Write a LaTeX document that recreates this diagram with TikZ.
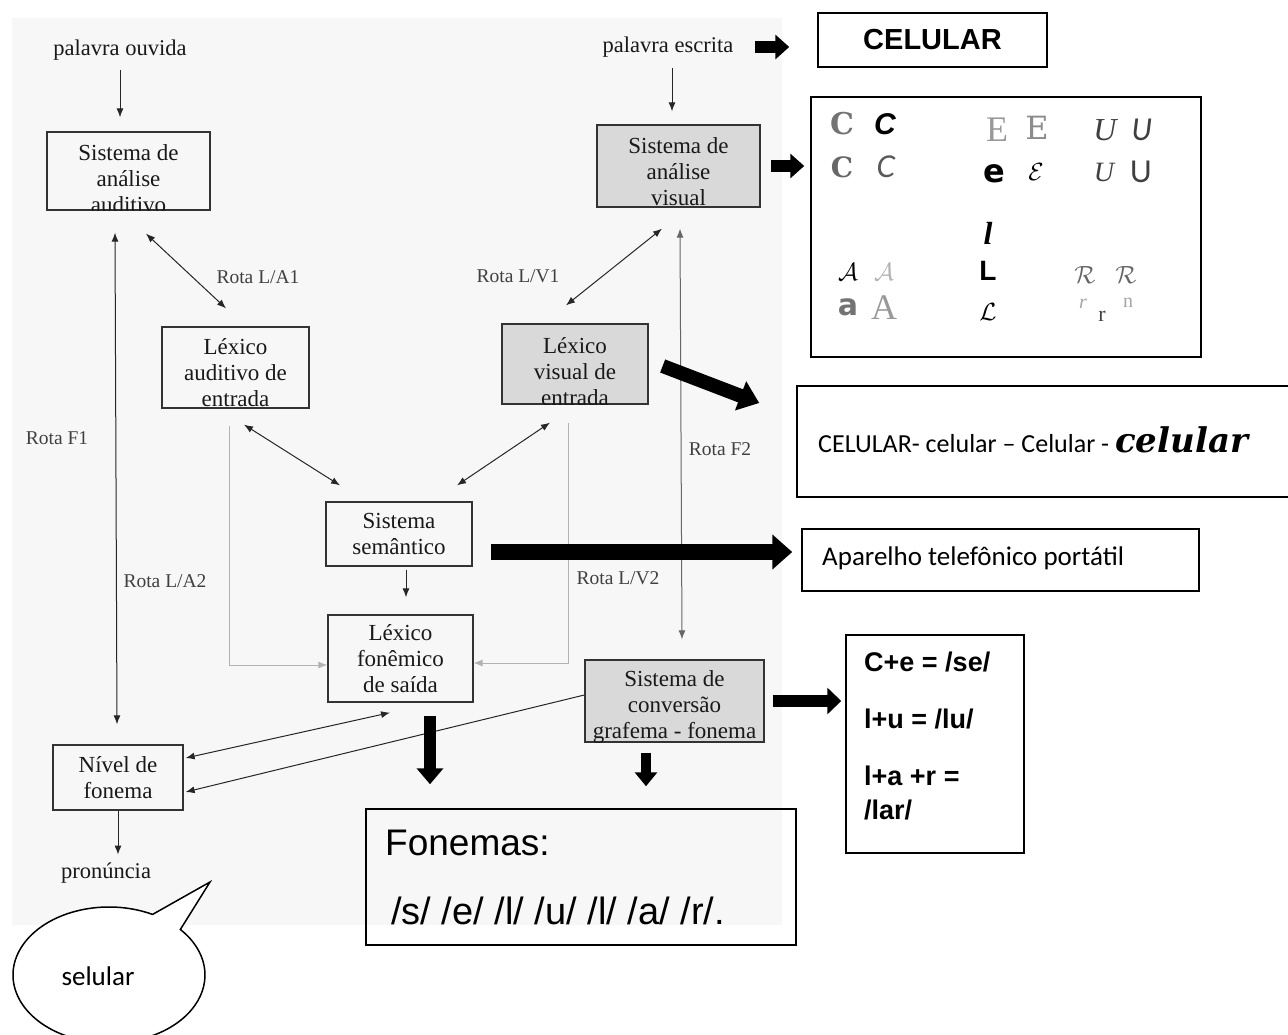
\documentclass[tikz,border=0pt]{standalone}
\usepackage{fontspec}
\setmainfont{Liberation Serif}
\newfontfamily\arialf{Liberation Sans}
\newfontfamily\calib{Carlito}
\newfontfamily\dvserif{DejaVu Serif}
\newfontfamily\dvsans{DejaVu Sans}
\newfontfamily\latof{Lato}
\newfontfamily\popf{Poppins}
\usetikzlibrary{arrows.meta,calc}
\begin{document}
\begin{tikzpicture}[x=1pt,y=-1pt,
  box/.style={draw=black!80,line width=1.3pt,rectangle,inner sep=0pt},
  gbox/.style={box,fill=gray!30},
  rbox/.style={draw=black,line width=1.5pt,rectangle,inner sep=0pt},
  btxt/.style={font=\fontsize{23}{26}\selectfont,align=center,text=black!90,inner sep=0pt},
  ptxt/.style={font=\fontsize{22.5}{24}\selectfont,text=black!90,inner sep=0pt},
  lbl/.style={font=\fontsize{19.5}{20}\selectfont,text=black!75,inner sep=0pt},
  arr/.style={draw=black!85,line width=1pt,-{Latex[length=9pt,width=7pt]}},
  dbl/.style={arr,{Latex[length=9pt,width=7pt]}-{Latex[length=9pt,width=7pt]}},
  faint/.style={draw=black!30,line width=0.9pt,-{Latex[length=9pt,width=7pt]}},
  fat/.style={draw=black,line width=#1,-{Triangle[length=16pt,width=26pt]}},
  fat/.default=12pt,
  glyph/.style={inner sep=0pt,font=\fontsize{30}{30}\selectfont}
]
\useasboundingbox (0,0) rectangle (1288,1035);
\fill[white] (0,0) rectangle (1288,1035);
\fill[black!3] (12,18) rectangle (782,925);

% ---------- left diagram ----------
\node[ptxt] (pwo) at (120,50) {palavra ouvida};
\node[ptxt] (pwe) at (668,47) {palavra escrita};
\node[ptxt] (pron) at (106,873) {pronúncia};

\node[box,minimum width=163pt,minimum height=78pt] (saa) at (128.5,171) {};
\begin{scope}\clip (saa.south west) rectangle (saa.north east);
\node[btxt] (saat) at (128.5,179) {Sistema de\\análise\\auditivo};\end{scope}

\node[gbox,minimum width=163pt,minimum height=82pt] (sav) at (678.5,166) {};
\begin{scope}\clip (sav.south west) rectangle (sav.north east);
\node[btxt] (savt) at (678.5,172) {Sistema de\\análise\\visual};\end{scope}

\node[box,minimum width=147pt,minimum height=81pt] (lae) at (235.5,367.5) {};
\begin{scope}\clip (lae.south west) rectangle (lae.north east);
\node[btxt] (laet) at (235.5,373) {Léxico\\auditivo de\\entrada};\end{scope}

\node[gbox,minimum width=146pt,minimum height=80pt] (lve) at (575,364) {};
\begin{scope}\clip (lve.south west) rectangle (lve.north east);
\node[btxt] (lvet) at (575,372) {Léxico\\visual de\\entrada};\end{scope}

\node[box,minimum width=146pt,minimum height=64pt,btxt] (ss) at (399,534) {Sistema\\semântico};
\node[box,minimum width=145pt,minimum height=87pt,btxt] (lfs) at (400.5,658.5) {Léxico\\fonêmico\\de saída};

\node[gbox,minimum width=179pt,minimum height=82pt] (scgf) at (674.5,701) {};
\begin{scope}\clip (scgf.south west) rectangle (scgf.north east);
\node[btxt] (scgft) at (674.5,707) {Sistema de\\conversão\\grafema - fonema};\end{scope}

\node[box,minimum width=130pt,minimum height=65pt,btxt] (nf) at (118,777.5) {Nível de\\fonema};

% labels
\node[lbl] (la1) at (258,277) {Rota L/A1};
\node[lbl] (lv1) at (518,276) {Rota L/V1};
\node[lbl] (f1) at (57,438) {Rota F1};
\node[lbl] (la2) at (165,581) {Rota L/A2};
\node[lbl] (f2) at (720,449) {Rota F2};
\node[lbl] (lv2) at (618,578) {Rota L/V2};

% thin connectors
\draw[arr] ($(pwo)+(0,20)$) -- ($(saa.north)+(-8.5,-14)$);
\draw[arr] ($(pwe)+(4,21)$) -- ($(sav.north)+(-6.5,-13)$);
\draw[dbl] ($(saa.south)+(17.5,23)$) -- ($(lae.north)+(-9.5,-18)$);
\draw[dbl] ($(sav.south)+(-16.5,21)$) -- ($(lve.north)+(-9,-18)$);
\draw[dbl] ($(saa.south)+(-13.5,22)$) -- ($(nf.north)+(-1,-20)$);
\draw[dbl,draw=black!60] ($(sav.south)+(1.5,21)$) -- ($(scgf.north)+(7.5,-20)$);
\draw[dbl] ($(lae.south)+(8.5,16)$) -- ($(ss.north)+(-59,-16)$);
\draw[dbl] ($(lve.south)+(-25,18)$) -- ($(ss.north)+(58,-16)$);
\draw[arr] ($(ss.south)+(7,3)$) -- ($(lfs.north)+(5.5,-17)$);
\draw[faint] ($(lae.south)+(-6.5,17)$) |- ($(lfs.west)+(0,6.5)$);
\draw[faint] ($(lve.south)+(-7,18)$) |- ($(lfs.east)+(0,4.5)$);
\draw[dbl] ($(lfs.south)+(-10.5,10)$) -- ($(nf.east)+(2,-19.5)$);
\draw[arr] ($(scgf.west)+(0,-6)$) -- ($(nf.east)+(2,14.5)$);
\draw[arr] (nf.south) -- ($(pron.north)+(12,-8)$);

% ---------- right side ----------
\node[rbox,minimum width=229pt,minimum height=54pt,font=\arialf\bfseries\fontsize{29}{30}\selectfont] (cel) at (932.5,40) {CELULAR};
\node[rbox,minimum width=390pt,minimum height=260pt] (letters) at (1006,227) {};
\node[rbox,minimum width=493pt,minimum height=111pt] (vars) at (1043.5,441.5) {};
\node[anchor=west,inner sep=0pt,font=\calib\fontsize{26}{28}\selectfont] (varst) at (818,440) {CELULAR- celular – Celular - {\dvserif\bfseries\itshape\fontsize{34}{34}\selectfont celular}};
\node[rbox,minimum width=397pt,minimum height=62pt] (apar) at (1000.5,560) {};
\node[anchor=west,inner sep=0pt,font=\calib\fontsize{27}{28}\selectfont] (apart) at (822,558) {Aparelho telefônico portátil};
\node[rbox,minimum width=178pt,minimum height=218pt] (ce) at (935,744) {};
\node[anchor=north west,inner sep=0pt,align=left,font=\arialf\bfseries\fontsize{27}{34}\selectfont] (cet) at (864,652) {C+e = /se/\\[23pt]l+u = /lu/\\[23pt]l+a +r =\\/lar/};
\node[rbox,minimum width=430pt,minimum height=136pt] (fon) at (581,877) {};
\node[anchor=west,inner sep=0pt,font=\arialf\fontsize{37}{40}\selectfont] (font1) at (385,843) {Fonemas:};
\node[anchor=west,inner sep=0pt,font=\arialf\fontsize{38}{40}\selectfont] (font2) at (391,911) {/s/ /e/ /l/ /u/ /l/ /a/ /r/.};

% glyph variants
\node[glyph,text=black!55,font=\dvserif\bfseries\fontsize{30}{30}\selectfont] (g1) at (842,124) {C};
\node[glyph,font=\arialf\bfseries\itshape\fontsize{30}{30}\selectfont] (g2) at (885,124) {C};
\node[glyph,text=black!60,font=\dvserif\bfseries\fontsize{28}{30}\selectfont] (g3) at (842,167) {C};
\node[glyph,text=black!65,font=\latof\itshape\fontsize{30}{30}\selectfont] (g4) at (886,167) {C};
\node[glyph,text=black!40,font=\fontsize{36}{36}\selectfont] (g5) at (997,130) {E};
\node[glyph,text=black!45,font=\dvserif\fontsize{32}{32}\selectfont] (g6) at (1037,128) {E};
\node[glyph,font=\dvsans\bfseries\fontsize{32}{30}\selectfont] (g7) at (994,174) {e};
\node[glyph,font=\fontsize{34}{34}\selectfont] (g8) at (1036,172) {$\mathcal{E}$};
\node[glyph,text=black!75,font=\itshape\fontsize{32}{30}\selectfont] (g9) at (1105,130) {U};
\node[glyph,text=black!75,font=\latof\itshape\fontsize{30}{30}\selectfont] (g10) at (1142,130) {U};
\node[glyph,text=black!75,font=\itshape\fontsize{28}{30}\selectfont] (g11) at (1104,172) {U};
\node[glyph,text=black!75,font=\latof\fontsize{30}{30}\selectfont] (g12) at (1141,172) {U};
\node[glyph,font=\fontsize{34}{34}\selectfont] (g13) at (848,272) {$\mathcal{A}$};
\node[glyph,text=black!30,font=\fontsize{34}{34}\selectfont] (g14) at (884,272) {$\mathcal{A}$};
\node[glyph,text=black!55,font=\dvsans\bfseries\fontsize{30}{30}\selectfont] (g15) at (848,307) {a};
\node[glyph,text=black!40,font=\fontsize{36}{36}\selectfont] (g16) at (884,308) {A};
\node[glyph,font=\bfseries\itshape\fontsize{32}{30}\selectfont] (g17) at (988,233) {l};
\node[glyph,font=\arialf\bfseries\fontsize{28}{30}\selectfont] (g18) at (988,271) {L};
\node[glyph,font=\fontsize{32}{30}\selectfont] (g19) at (988,312) {$\mathcal{L}$};
\node[glyph,text=black!60,font=\fontsize{28}{30}\selectfont] (g20) at (1085,275) {$\mathcal{R}$};
\node[glyph,text=black!60,font=\fontsize{28}{30}\selectfont] (g21) at (1126,275) {$\mathcal{R}$};
\node[glyph,text=black!35,font=\itshape\fontsize{20}{24}\selectfont] (g22) at (1083,304) {r};
\node[glyph,text=black!75,font=\fontsize{22}{24}\selectfont] (g23) at (1102,316) {r};
\node[glyph,text=black!35,font=\fontsize{20}{24}\selectfont] (g24) at (1128,303) {n};

% thick arrows
\draw[fat=12pt,-{Triangle[length=14pt,width=24pt]}] ($(pwe)+(87,0)$) -- ($(cel.west)+(-28,7)$);
\draw[fat=12pt,-{Triangle[length=14pt,width=24pt]}] ($(sav.east)+(10,0)$) -- ($(sav.east -| letters.west)+(-6,0)$);
\draw[fat=14pt,-{Triangle[length=20pt,width=30pt]}] ($(lve.east)+(14,2)$) -- ($(vars.west)+(-37,-38.5)$);
\draw[fat=16pt,-{Triangle[length=20pt,width=34pt]}] ($(ss.east)+(18,18)$) -- ($(apar.west)+(-9,-8)$);
\draw[fat=12pt,-{Triangle[length=14pt,width=26pt]}] ($(scgf.east)+(8,0)$) -- ($(scgf.east -| ce.west)+(-4,0)$);
\draw[fat=12pt,-{Triangle[length=16pt,width=26pt]}] ($(lfs.south)+(29.5,13)$) -- ($(lfs.south |- fon.north)+(29.5,-24)$);
\draw[fat=10pt,-{Triangle[length=14pt,width=22pt]}] ($(scgf.south)+(-28.5,10)$) -- ($(scgf.south |- fon.north)+(-28.5,-22)$);

% speech bubble
\begin{scope}[shift={(109,975)},y=1pt]
\draw[line width=1.5pt,fill=white,line join=miter] (42:96pt and 68pt) -- (101pt,93pt) -- (63:96pt and 68pt)
  arc[start angle=63,end angle=402,x radius=96pt,y radius=68pt] -- cycle;
\end{scope}
\node[inner sep=0pt,font=\calib\fontsize{27}{28}\selectfont] (sel) at (98,976) {selular};
\end{tikzpicture}
\end{document}
